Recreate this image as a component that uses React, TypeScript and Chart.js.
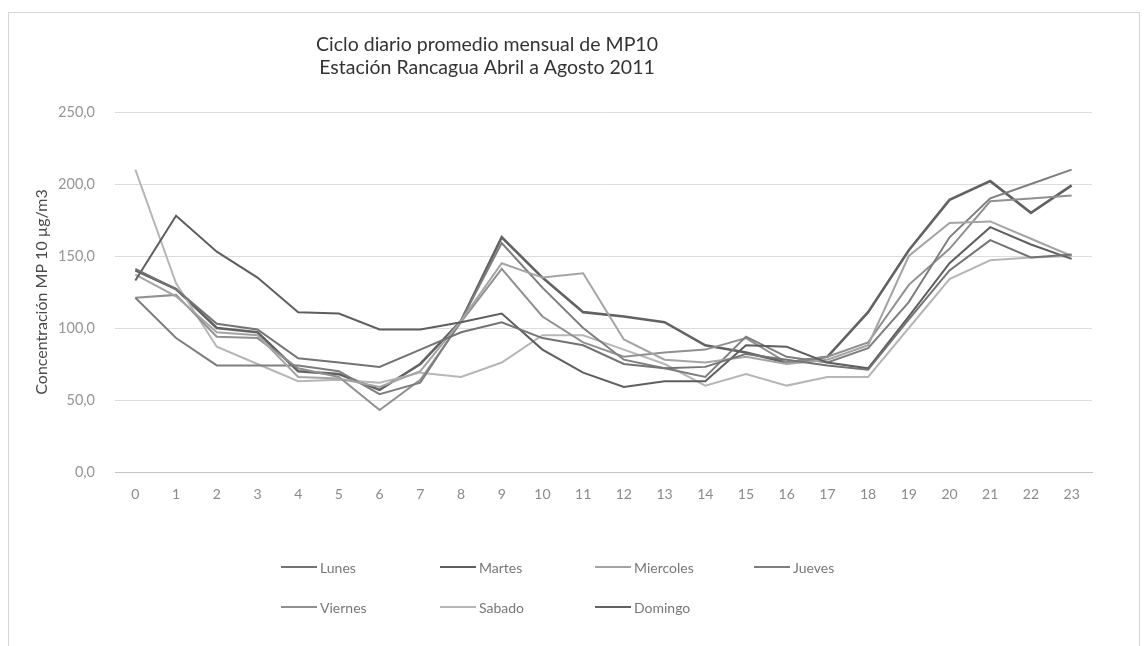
import React, { useEffect, useRef } from "react";
import { Chart, registerables } from "chart.js";

Chart.register(...registerables);

const hours = ["0","1","2","3","4","5","6","7","8","9","10","11","12","13","14","15","16","17","18","19","20","21","22","23"];
const yTicks = [0, 50, 100, 150, 200, 250];

const seriesNames = ["Lunes", "Martes", "Miercoles", "Jueves", "Viernes", "Sabado", "Domingo"];

const lunes = [141,127,103,99,79,76,73,85,97,104,93,88,75,72,73,82,78,74,71,106,140,161,149,151];
const martes = [133,178,153,135,111,110,99,99,104,110,85,69,59,63,63,88,87,76,72,108,145,170,158,148];
const miercoles = [137,122,97,95,66,65,59,70,105,145,135,138,92,78,76,80,75,78,88,150,173,174,162,150];
const jueves = [121,93,74,74,74,70,54,62,105,159,128,100,78,72,66,94,80,76,86,118,163,190,200,210];
const viernes = [121,123,94,93,72,66,43,64,104,141,108,90,80,83,85,93,76,80,90,130,155,188,190,192];
const sabado = [210,131,87,75,63,64,62,69,66,76,95,95,85,75,60,68,60,66,66,100,134,147,149,150];
const domingo = [140,127,100,97,70,68,57,75,105,163,135,111,108,104,88,83,76,80,111,154,189,202,180,199];

const seriesValues = [lunes, martes, miercoles, jueves, viernes, sabado, domingo];
const seriesColors = ["#737373", "#5e5e5e", "#a4a4a4", "#7e7e7e", "#909090", "#b6b6b6", "#626262"];
const seriesWidths = [2, 2, 2, 2, 2, 2, 2.6];

const titleLines = ["Ciclo diario promedio mensual de MP10", "Estación Rancagua Abril a Agosto 2011"];
const yAxisTitle = "Concentración MP 10 µg/m3";

const FONT = "Lato, 'Open Sans', sans-serif";

const titlePlugin = {
  id: "customTitle",
  afterDraw(chart: any) {
    const ctx = chart.ctx;
    ctx.save();
    ctx.fillStyle = "#333333";
    ctx.font = `19.5px ${FONT}`;
    ctx.textAlign = "center";
    ctx.textBaseline = "middle";
    ctx.fillText(titleLines[0], 487, 45);
    ctx.fillText(titleLines[1], 487, 68);
    ctx.restore();
  },
};

export default function App() {
  const ref = useRef<HTMLCanvasElement | null>(null);

  useEffect(() => {
    document.body.style.margin = "0";
    const canvas = ref.current;
    if (!canvas) return;
    const chart = new Chart(canvas, {
      type: "line",
      data: {
        labels: hours,
        datasets: seriesNames.map((name, i) => ({
          label: name,
          data: seriesValues[i],
          borderColor: seriesColors[i],
          backgroundColor: seriesColors[i],
          borderWidth: seriesWidths[i],
          pointRadius: 0,
          tension: 0,
          fill: false,
        })),
      },
      options: {
        animation: false,
        responsive: false,
        maintainAspectRatio: false,
        layout: { padding: { left: 0, right: 52, top: 112, bottom: 0 } },
        plugins: {
          legend: { display: false },
          title: { display: false },
          tooltip: { enabled: false },
        },
        scales: {
          x: {
            offset: true,
            grid: { display: false, drawTicks: false },
            border: { display: true, color: "#c4c4c4", width: 1 },
            ticks: {
              color: "#8a8a8a",
              font: { family: FONT, size: 14 },
              padding: 14,
              maxRotation: 0,
              autoSkip: false,
            },
            afterFit(scale: any) {
              scale.height = 174;
            },
          },
          y: {
            min: 0,
            max: 250,
            afterBuildTicks(scale: any) {
              scale.ticks = yTicks.map((v) => ({ value: v }));
            },
            grid: { color: "#dcdcdc", drawTicks: false, lineWidth: 1 },
            border: { display: false },
            ticks: {
              color: "#969696",
              font: { family: FONT, size: 14.5 },
              padding: 20,
              callback: (v: any) => Number(v).toFixed(1).replace(".", ","),
            },
            title: {
              display: true,
              text: yAxisTitle,
              color: "#4a4a4a",
              font: { family: FONT, size: 16 },
              padding: { top: 32, bottom: 0 },
            },
            afterFit(scale: any) {
              scale.width = 115;
            },
          },
        },
      },
      plugins: [titlePlugin],
    });
    return () => chart.destroy();
  }, []);

  const legendCols = [281, 440, 595, 754];
  const legendRows = [567, 607];

  return (
    <div style={{ position: "relative", width: 1144, height: 646, background: "#fff", overflow: "hidden", fontFamily: FONT }}>
      <div style={{ position: "absolute", left: 8, top: 12, width: 1132, height: 640, border: "1px solid #d6d6d6", boxSizing: "border-box" }} />
      <canvas ref={ref} width={1144} height={646} style={{ position: "absolute", left: 0, top: 0, width: 1144, height: 646 }} />
      {seriesNames.map((name, i) => {
        const row = i < 4 ? 0 : 1;
        const col = i < 4 ? i : i - 4;
        return (
          <div
            key={name}
            style={{
              position: "absolute",
              left: legendCols[col],
              top: legendRows[row] - 10,
              height: 20,
              display: "flex",
              alignItems: "center",
              fontSize: 14,
              color: "#777777",
              whiteSpace: "nowrap",
            }}
          >
            <span style={{ display: "inline-block", width: 36, height: seriesWidths[i], background: seriesColors[i], marginRight: 3 }} />
            <span>{name}</span>
          </div>
        );
      })}
    </div>
  );
}
